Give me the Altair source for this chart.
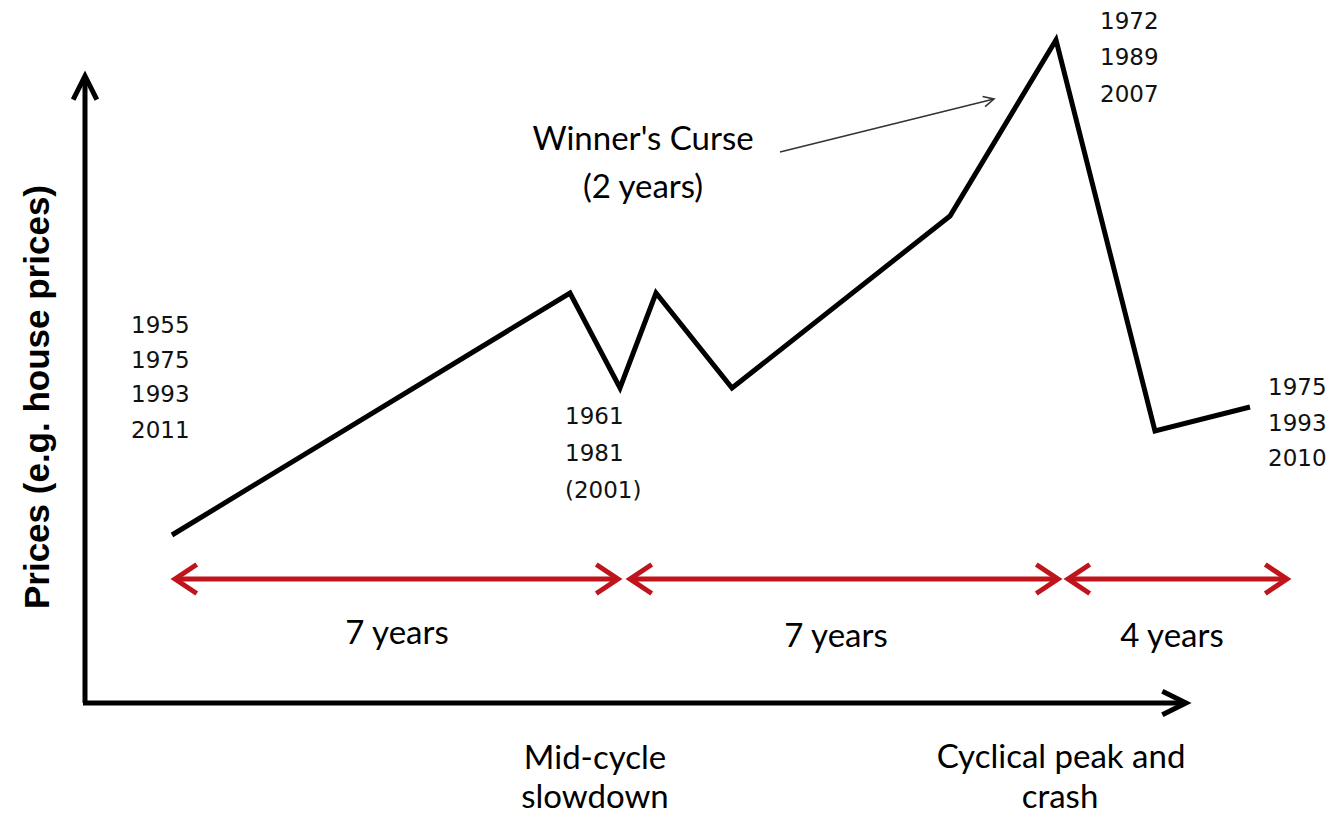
import altair as alt
import pandas as pd

# ---- diagram coordinates (x: horizontal position, y: price level, 0 = bottom of frame) ----
W, H = 1319, 810
X_DOMAIN = [8, 1327]
Y_DOMAIN = [0, 810]

# price path
path_x = [172, 570, 620, 656, 732, 950, 1056, 1155, 1250]
path_y = [283, 525, 430, 525, 430, 602, 778, 387, 411]

# period arrows (red double-headed)
period_start = [175, 630, 1068]
period_end = [618, 1058, 1287]
period_level = [239, 239, 239]
period_text = ["7 years", "7 years", "4 years"]
period_text_x = [397, 836, 1172]
period_text_y = [184, 181, 181]

# axes
axis_x0, axis_x1 = 83, 1184
axis_level = 115
yaxis_x = 85
yaxis_top = 738

# year annotations
year_text = ["1955", "1975", "1993", "2011",
             "1961", "1981", "(2001)",
             "1972", "1989", "2007",
             "1975", "1993", "2010"]
year_x = [131, 131, 131, 131,
          565, 565, 565,
          1100, 1100, 1100,
          1268, 1268, 1268]
year_y = [492, 457, 423, 387,
          401, 364, 327,
          796, 760, 723,
          430, 394, 359]

# phase labels
phase_text = ["Mid-cycle", "slowdown", "Cyclical peak and", "crash",
              "Winner's Curse", "(2 years)"]
phase_x = [595, 595, 1061, 1060, 643, 643]
phase_y = [59, 20, 60, 20, 678, 630]

# winner's curse pointer
pointer_x = [780]
pointer_x2 = [994]
pointer_y = [666]
pointer_y2 = [719]

xs = alt.Scale(domain=X_DOMAIN, nice=False, zero=False)
ysc = alt.Scale(domain=Y_DOMAIN, nice=False, zero=False)


def X(f="x"):
    return alt.X(f"{f}:Q", scale=xs, axis=None)


def Y(f="y"):
    return alt.Y(f"{f}:Q", scale=ysc, axis=None)


path_df = pd.DataFrame({"x": path_x, "y": path_y, "i": range(len(path_x))})
price_line = alt.Chart(path_df).mark_line(
    color="black", strokeWidth=5, strokeJoin="miter", strokeMiterLimit=10
).encode(x=X(), y=Y(), order="i:Q")

period_df = pd.DataFrame({"x": period_start, "x2": period_end, "y": period_level})
period_rules = alt.Chart(period_df).mark_rule(color="#c0141c", strokeWidth=5).encode(
    x=X(), x2="x2:Q", y=Y()
)

CHEV = "M1.5,-1 L0,0 L1.5,1"
heads_df = pd.DataFrame({
    "x": period_start + period_end,
    "y": period_level + period_level,
    "angle": [0] * len(period_start) + [180] * len(period_end),
})
period_heads = alt.Chart(heads_df).mark_point(
    shape=CHEV, filled=False, color="#c0141c", strokeWidth=5, size=840,
    opacity=1, strokeJoin="miter"
).encode(x=X(), y=Y(), angle=alt.Angle("angle:Q", scale=None))

axes_df = pd.DataFrame({
    "x": [axis_x0, yaxis_x], "x2": [axis_x1, yaxis_x],
    "y": [axis_level, axis_level], "y2": [axis_level, yaxis_top],
})
axes_rules = alt.Chart(axes_df).mark_rule(color="black", strokeWidth=5).encode(
    x=X(), x2="x2:Q", y=Y(), y2="y2:Q"
)

AXHEAD = "M2,-1 L0,0 L2,1"
axheads_df = pd.DataFrame({
    "x": [axis_x1 + 2, yaxis_x], "y": [axis_level, yaxis_top + 4], "angle": [180, 90]
})
axis_heads = alt.Chart(axheads_df).mark_point(
    shape=AXHEAD, filled=False, color="black", strokeWidth=5, size=560,
    opacity=1, strokeJoin="miter"
).encode(x=X(), y=Y(), angle=alt.Angle("angle:Q", scale=None))

pointer_df = pd.DataFrame({"x": pointer_x, "x2": pointer_x2, "y": pointer_y, "y2": pointer_y2})
pointer = alt.Chart(pointer_df).mark_rule(color="#333333", strokeWidth=1.6).encode(
    x=X(), x2="x2:Q", y=Y(), y2="y2:Q"
)
pointer_head_df = pd.DataFrame({"x": pointer_x2, "y": pointer_y2, "angle": [166]})
pointer_head = alt.Chart(pointer_head_df).mark_point(
    shape=AXHEAD, filled=False, color="#333333", strokeWidth=1.6, size=110, opacity=1
).encode(x=X(), y=Y(), angle=alt.Angle("angle:Q", scale=None))

period_lab_df = pd.DataFrame({"t": period_text, "x": period_text_x, "y": period_text_y})
period_labels = alt.Chart(period_lab_df).mark_text(
    font="Lato", fontSize=33, color="black", align="center", baseline="middle"
).encode(x=X(), y=Y(), text="t:N")

phase_df = pd.DataFrame({"t": phase_text, "x": phase_x, "y": phase_y})
phase_labels = alt.Chart(phase_df).mark_text(
    font="Lato", fontSize=33, color="black", align="center", baseline="middle"
).encode(x=X(), y=Y(), text="t:N")

year_df = pd.DataFrame({"t": year_text, "x": year_x, "y": year_y})
year_labels = alt.Chart(year_df).mark_text(
    font="DejaVu Sans", fontSize=23, color="#111111", align="left", baseline="middle"
).encode(x=X(), y=Y(), text="t:N")

ytitle_df = pd.DataFrame({"t": ["Prices (e.g. house prices)"], "x": [38], "y": [421]})
ytitle = alt.Chart(ytitle_df).mark_text(
    font="Liberation Sans", fontWeight="bold", fontSize=35, color="black",
    align="center", baseline="middle", angle=270
).encode(x=X(), y=Y(), text="t:N")

chart = alt.layer(
    axes_rules, axis_heads, period_rules, period_heads, price_line,
    pointer, pointer_head, period_labels, phase_labels, year_labels, ytitle
).properties(
    width=W, height=H, padding=0,
    autosize=alt.AutoSizeParams(type="none"),
    background="white",
).configure_view(stroke=None)

chart.save("out.html", embed_options={"renderer": "svg", "actions": False})
